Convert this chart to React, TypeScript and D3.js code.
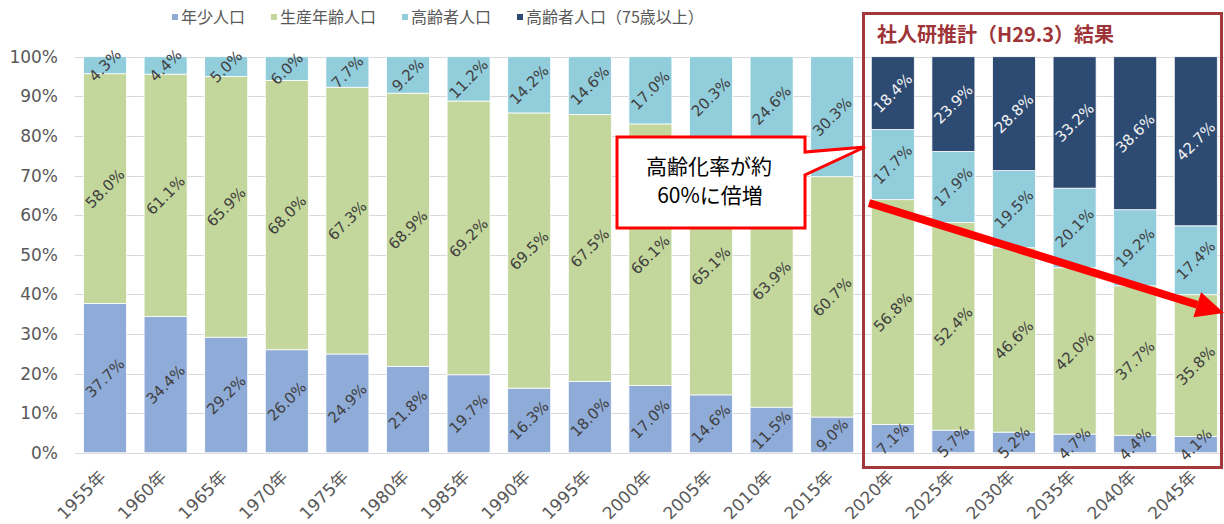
import React from "react";
import * as d3 from "d3";

const years = ["1955年","1960年","1965年","1970年","1975年","1980年","1985年","1990年","1995年","2000年","2005年","2010年","2015年","2020年","2025年","2030年","2035年","2040年","2045年"];
const young = [37.7,34.4,29.2,26.0,24.9,21.8,19.7,16.3,18.0,17.0,14.6,11.5,9.0,7.1,5.7,5.2,4.7,4.4,4.1];
const working = [58.0,61.1,65.9,68.0,67.3,68.9,69.2,69.5,67.5,66.1,65.1,63.9,60.7,56.8,52.4,46.6,42.0,37.7,35.8];
const elderly = [4.3,4.4,5.0,6.0,7.7,9.2,11.2,14.2,14.6,17.0,20.3,24.6,30.3,17.7,17.9,19.5,20.1,19.2,17.4];
const old75 = [0,0,0,0,0,0,0,0,0,0,0,0,0,18.4,23.9,28.8,33.2,38.6,42.7];
const seriesKeys = ["young","working","elderly","old75"];
const seriesNames = ["年少人口","生産年齢人口","高齢者人口","高齢者人口（75歳以上）"];
const yTicks = [0,0.1,0.2,0.3,0.4,0.5,0.6,0.7,0.8,0.9,1.0];
const calloutLines = ["高齢化率が約","60%に倍増"];

const colors: Record<string,string> = {
  young: "#8FABD7",
  working: "#C3D69B",
  elderly: "#92CDDC",
  old75: "#2C4A72",
};

const W = 1224, H = 524;
const NUM = "'DejaVu Sans', 'Noto Sans CJK JP', sans-serif";
const CJK = "'Noto Sans CJK JP', 'DejaVu Sans', sans-serif";

export default function App() {
  const rows = years.map((y, i) => ({
    year: y,
    young: young[i],
    working: working[i],
    elderly: elderly[i],
    old75: old75[i],
  }));
  const stack = d3.stack<any>().keys(seriesKeys).offset(d3.stackOffsetExpand);
  const series = stack(rows);

  const x = d3.scaleBand<string>().domain(years).range([74.7, 1226.1]).paddingInner(0.29).paddingOuter(0.145);
  const y = d3.scaleLinear().domain([0, 1]).range([452.7, 56.7]);
  const bw = x.bandwidth();

  // arrow geometry (annotation)
  const a0 = [869, 203], a1 = [1224, 313];
  const dx = a1[0] - a0[0], dy = a1[1] - a0[1];
  const len = Math.hypot(dx, dy);
  const ux = dx / len, uy = dy / len;
  const hl = 28, hw = 13;
  const bx = a1[0] - hl * ux, by = a1[1] - hl * uy;
  const nx = -uy, ny = ux;

  const legendX = [172, 271, 402, 517];

  return (
    <svg width={W} height={H} style={{ position: "absolute", left: 0, top: 0, background: "#fff" }}>
      <rect x={0} y={0} width={W} height={H} fill="#fff" />
      {/* gridlines */}
      {yTicks.map((t) => (
        <line key={"g" + t} x1={75} x2={1226} y1={Math.round(y(t)) + 0.5} y2={Math.round(y(t)) + 0.5} stroke="#D9D9D9" strokeWidth={1} />
      ))}
      {/* y tick labels */}
      {yTicks.map((t) => (
        <text key={"yt" + t} x={58} y={y(t)} dy="0.36em" textAnchor="end" fontFamily={NUM} fontSize={17} fill="#595959">
          {d3.format(".0%")(t)}
        </text>
      ))}
      {/* bars */}
      {series.map((s) => (
        <g key={s.key}>
          {s.map((d: any, i: number) => {
            const v = (rows[i] as any)[s.key];
            if (!v) return null;
            return (
              <rect key={i} x={x(years[i])} y={y(d[1])} width={bw} height={y(d[0]) - y(d[1])} fill={colors[s.key]} stroke="#fff" strokeWidth={0.8} />
            );
          })}
        </g>
      ))}
      {/* data labels */}
      {series.map((s) => (
        <g key={"l" + s.key}>
          {s.map((d: any, i: number) => {
            const v = (rows[i] as any)[s.key];
            if (!v) return null;
            const cx = (x(years[i]) as number) + bw / 2;
            const cy = (y(d[0]) + y(d[1])) / 2;
            return (
              <text key={i} transform={`translate(${cx},${cy}) rotate(-45)`} textAnchor="middle" dy="0.35em" fontFamily={NUM} fontSize={15} fill={s.key === "old75" ? "#F2F2F2" : "#404040"}>
                {v.toFixed(1)}%
              </text>
            );
          })}
        </g>
      ))}
      {/* x labels */}
      {years.map((yr) => (
        <text key={"x" + yr} transform={`translate(${(x(yr) as number) + bw / 2 + 2},478) rotate(-45)`} textAnchor="end" fontFamily={NUM} fontSize={17} fill="#595959">
          {yr}
        </text>
      ))}
      {/* projection box */}
      <rect x={863.5} y={13.5} width={358} height={454} fill="none" stroke="#A3383C" strokeWidth={3} />
      <text x={877} y={42} fontFamily={CJK} fontWeight="bold" fontSize={20} fill="#9E3438">
        社人研推計（H29.3）結果
      </text>
      {/* callout */}
      <path d="M617,137 H805 V152 L865,147 L805,175 V228 H617 Z" fill="#fff" stroke="#FF0000" strokeWidth={3} strokeLinejoin="miter" />
      <text x={709} y={167} dy="0.35em" textAnchor="middle" fontFamily={CJK} fontSize={21} fill="#000">{calloutLines[0]}</text>
      <text x={710} y={196} dy="0.35em" textAnchor="middle" fontFamily={CJK} fontSize={21} fill="#000">{calloutLines[1]}</text>
      {/* arrow */}
      <line x1={a0[0]} y1={a0[1]} x2={bx} y2={by} stroke="#FF0000" strokeWidth={8} />
      <polygon points={`${a1[0]},${a1[1]} ${bx + hw * nx},${by + hw * ny} ${bx - hw * nx},${by - hw * ny}`} fill="#FF0000" />
      {/* legend */}
      {seriesKeys.map((k, i) => (
        <g key={"lg" + k}>
          <rect x={legendX[i]} y={14} width={6} height={6} fill={colors[k]} />
          <text x={legendX[i] + 9} y={17} dy="0.35em" fontFamily={CJK} fontSize={16} fill="#595959">{seriesNames[i]}</text>
        </g>
      ))}
    </svg>
  );
}
